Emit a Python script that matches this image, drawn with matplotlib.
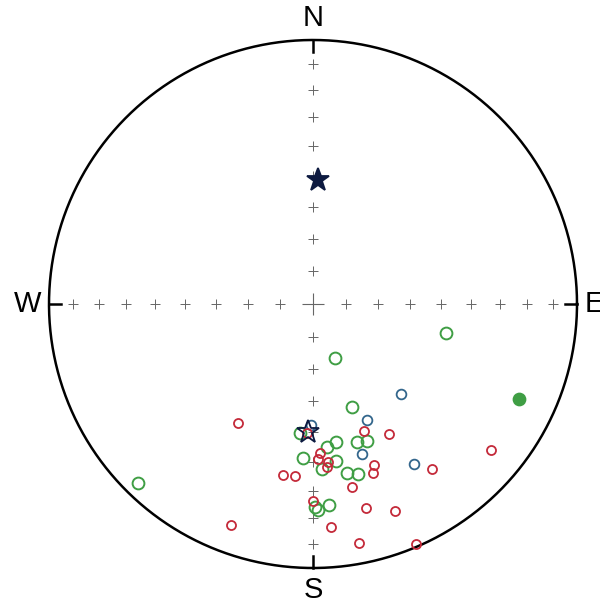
import numpy as np
import matplotlib
matplotlib.use('Agg')
import matplotlib.pyplot as plt

# 方向数据：偏角 dec / 倾角 inc（负值=上半球，空心符号）
red_dec = [212.2, 158.1, 149.7, 182.7, 177.3, 178.2, 174.6, 175.1, 190.0, 186.0, 159.3,
           160.5, 144.2, 129.4, 168.0, 180.0, 165.4, 158.4, 200.4, 175.4, 169.1, 156.8]
red_inc = [-45.7, -47.0, -42.4, -49.5, -42.9, -40.9, -39.7, -38.0, -34.6, -34.8, -35.1,
           -32.6, -24.0, -13.9, -29.9, -26.3, -21.3, -16.8, -11.7, -16.4, -8.6, -1.2]

green_dec = [102.3, 157.8, 159.3, 185.8, 170.5, 174.4, 162.3, 158.5, 183.7, 171.7, 176.9,
             168.6, 165.2, 179.4, 178.6, 175.4, 224.4, 114.8]
green_inc = [-47.2, -72.0, -55.7, -49.4, -46.0, -44.7, -44.4, -43.5, -41.2, -39.7, -37.5,
             -35.0, -33.8, -24.1, -23.0, -24.6, -5.8, 15.2]

blue_dec = [135.6, 155.0, 180.9, 161.9, 147.7]
blue_inc = [-50.6, -49.9, -52.2, -40.0, -29.1]

# 平均方向（五角星）
mean_dec = [2.3, 182.2]
mean_inc = [51.2, -49.9]

RED = '#c42a3a'
GREEN = '#3f9e44'
BLUE = '#33668c'
NAVY = '#0d1a40'


def project(dec, inc):
    """等面积投影 (Schmidt)，返回 x, y"""
    dec = np.radians(np.asarray(dec, dtype=float))
    inc = np.abs(np.asarray(inc, dtype=float))
    r = np.sqrt(2) * np.sin(np.radians(90 - inc) / 2)
    return r * np.sin(dec), r * np.cos(dec)


def plot_dirs(ax, dec, inc, color, ms, mew, marker='o', z=3):
    dec = np.asarray(dec)
    inc = np.asarray(inc)
    up = inc < 0
    x, y = project(dec[up], inc[up])
    ax.plot(x, y, marker, ls='none', ms=ms, mfc='none', mec=color, mew=mew, zorder=z)
    x, y = project(dec[~up], inc[~up])
    ax.plot(x, y, marker, ls='none', ms=ms, mfc=color, mec=color, mew=mew, zorder=z)


fig = plt.figure(figsize=(6, 6), dpi=100)
ax = fig.add_axes([0, 0, 1, 1])
ax.set_xlim(-1.1856, 1.0871)
ax.set_ylim(-1.1212, 1.1515)
ax.set_aspect('equal')
ax.axis('off')

# 外圆
t = np.linspace(0, 2 * np.pi, 400)
ax.plot(np.cos(t), np.sin(t), color='black', lw=1.8, zorder=2)

# 边缘刻度
for a in [0, 90, 180, 270]:
    s, c = np.sin(np.radians(a)), np.cos(np.radians(a))
    ax.plot([s * 0.955, s], [c * 0.955, c], color='black', lw=1.8, zorder=2)

# 十度间隔的十字
incs = np.arange(10, 90, 10)
for a in [0, 90, 180, 270]:
    x, y = project([a] * len(incs), incs)
    ax.plot(x, y, '+', ls='none', ms=7, mew=0.7, color='#666666', zorder=1)
ax.plot([0], [0], '+', ms=16, mew=0.8, color='#666666', zorder=1)

plot_dirs(ax, green_dec, green_inc, GREEN, 8.5, 1.4)
plot_dirs(ax, blue_dec, blue_inc, BLUE, 7, 1.3)
plot_dirs(ax, red_dec, red_inc, RED, 6.5, 1.3)
plot_dirs(ax, mean_dec, mean_inc, NAVY, 17, 1.3, marker='*', z=5)

font = dict(family='Liberation Sans', fontsize=21, color='black')
ax.text(0, 1.03, 'N', ha='center', va='bottom', **font)
ax.text(0, -1.03, 'S', ha='center', va='top', **font)
ax.text(-1.03, 0, 'W', ha='right', va='center', **font)
ax.text(1.03, 0, 'E', ha='left', va='center', **font)

fig.savefig('out.png', dpi=100)
